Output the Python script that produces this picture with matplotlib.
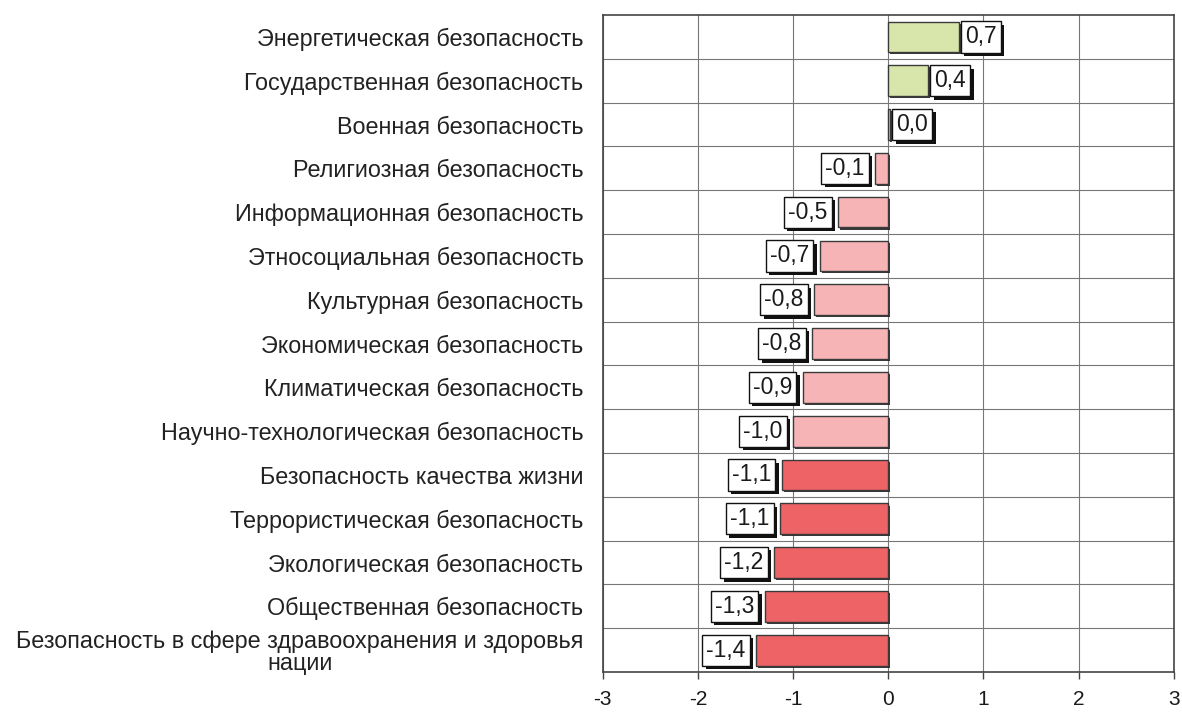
import matplotlib
matplotlib.use("Agg")
import matplotlib.pyplot as plt
import matplotlib.patheffects as pe

plt.rcParams['font.family'] = ['Liberation Sans', 'DejaVu Sans']

categories = [
    "Энергетическая безопасность",
    "Государственная безопасность",
    "Военная безопасность",
    "Религиозная безопасность",
    "Информационная безопасность",
    "Этносоциальная безопасность",
    "Культурная безопасность",
    "Экономическая безопасность",
    "Климатическая безопасность",
    "Научно-технологическая безопасность",
    "Безопасность качества жизни",
    "Террористическая безопасность",
    "Экологическая безопасность",
    "Общественная безопасность",
    "Безопасность в сфере здравоохранения и здоровья\nнации",
]
values = [0.74, 0.42, 0.02, -0.14, -0.53, -0.72, -0.78, -0.80, -0.90, -1.00,
          -1.12, -1.14, -1.20, -1.30, -1.39]
value_labels = ["0,7", "0,4", "0,0", "-0,1", "-0,5", "-0,7", "-0,8", "-0,8", "-0,9", "-1,0",
                "-1,1", "-1,1", "-1,2", "-1,3", "-1,4"]
groups = ["pos"] * 3 + ["mid"] * 7 + ["neg"] * 5
group_colors = {"pos": "#d8e6ac", "mid": "#f6b4b6", "neg": "#ee6466"}
xticks = [-3, -2, -1, 0, 1, 2, 3]

fig = plt.figure(figsize=(11.82, 7.15), dpi=100)
ax = fig.add_axes([0.510, 0.060, 0.483, 0.919])

n = len(categories)
ypos = list(range(n))
bars = ax.barh(ypos, values, height=0.70,
               color=[group_colors[g] for g in groups],
               edgecolor="#3a3a3a", linewidth=1.0, zorder=3)
for b in bars:
    b.set_path_effects([pe.SimplePatchShadow(offset=(1.5, -1.5), shadow_rgbFace="#222222", alpha=0.9),
                        pe.Normal()])

for y, v, lab in zip(ypos, values, value_labels):
    if v >= 0:
        off, ha = 4.5, "left"
    else:
        off, ha = -7.5, "right"
    t = ax.annotate(lab, xy=(v, y), xytext=(off, 0), textcoords="offset points",
                    ha=ha, va="center", fontsize=16.5, color="#1a1a1a", zorder=5,
                    bbox=dict(boxstyle="square,pad=0.18", fc="white", ec="#111111", lw=1.0))
    t.get_bbox_patch().set_path_effects([pe.SimplePatchShadow(offset=(2.5, -2.5), shadow_rgbFace="#111111", alpha=1.0),
                                         pe.Normal()])

ax.set_xlim(-3, 3)
ax.set_ylim(n - 0.5, -0.5)
ax.set_xticks(xticks)
ax.set_xticklabels([str(x) for x in xticks], fontsize=15, color="#1a1a1a")
ax.set_yticks(ypos)
ax.set_yticklabels(categories, fontsize=16.8, color="#222222")
for tl in ax.get_yticklabels():
    tl.set_multialignment("center")
    tl.set_linespacing(0.95)
ax.set_yticks([i + 0.5 for i in range(n - 1)], minor=True)
ax.tick_params(axis="y", which="both", length=0, pad=14)
ax.tick_params(axis="x", length=5, width=1, color="#444444", pad=8)
ax.grid(True, axis="x", which="major", color="#777777", lw=0.8, zorder=0)
ax.grid(True, axis="y", which="minor", color="#777777", lw=0.8, zorder=0)
for s in ax.spines.values():
    s.set_color("#444444")
    s.set_linewidth(1.2)

fig.savefig("out.png", dpi=100)
